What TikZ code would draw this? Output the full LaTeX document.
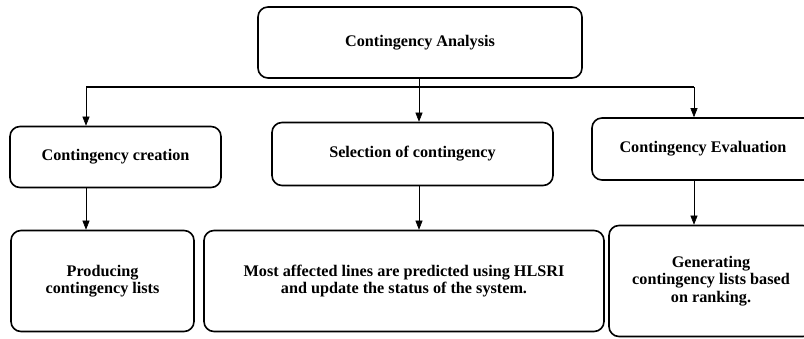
\documentclass[tikz,border=0pt]{standalone}
\usepackage{fontspec}
\setmainfont{Liberation Serif}
\usetikzlibrary{arrows.meta}
\begin{document}
\begin{tikzpicture}[x=1pt,y=-1pt,
  box/.style={draw, line width=1.6pt, rounded corners=10pt, font=\bfseries\fontsize{16.2}{17.5}\selectfont, align=center, inner sep=0pt},
  arr/.style={-{Triangle[length=9pt,width=7pt]}, line width=0.6pt},
  bus/.style={line width=1.6pt}]
\useasboundingbox (0,0) rectangle (804,339);
\node[box, minimum width=324pt, minimum height=71pt] (top) at (420,42.5) {Contingency Analysis};
\node[box, minimum width=211pt, minimum height=61pt] (c1) at (115.5,157) {Contingency creation};
\node[box, minimum width=281pt, minimum height=63pt] (c2) at (412.5,154) {Selection of contingency};
\node[box, minimum width=222pt, minimum height=62pt] (c3) at (703,149) {Contingency Evaluation};
\node[box, minimum width=183pt, minimum height=101pt] (d1) at (102.5,281) {Producing\\contingency lists};
\node[box, minimum width=400pt, minimum height=101pt] (d2) at (404,281) {Most affected lines are predicted using HLSRI\\and update the status of the system.};
\node[box, minimum width=204pt, minimum height=111pt] (d3) at (711,281) {Generating\\contingency lists based\\on ranking.};
\coordinate (bl) at (86,87);
\coordinate (bm) at (419,87);
\coordinate (br) at (694,87);
\draw[bus] (bl) -- (br);
\draw[line width=0.6pt] (top.south -| bm) -- (bm);
\draw[arr] (bl) -- (bl |- c1.north);
\draw[arr] (bm) -- (bm |- c2.north);
\draw[arr] (br) -- (br |- c3.north);
\draw[arr] (bl |- c1.south) -- (bl |- d1.north);
\draw[arr] (bm |- c2.south) -- (bm |- d2.north);
\draw[arr] (br |- c3.south) -- (br |- d3.north);
\end{tikzpicture}
\end{document}
